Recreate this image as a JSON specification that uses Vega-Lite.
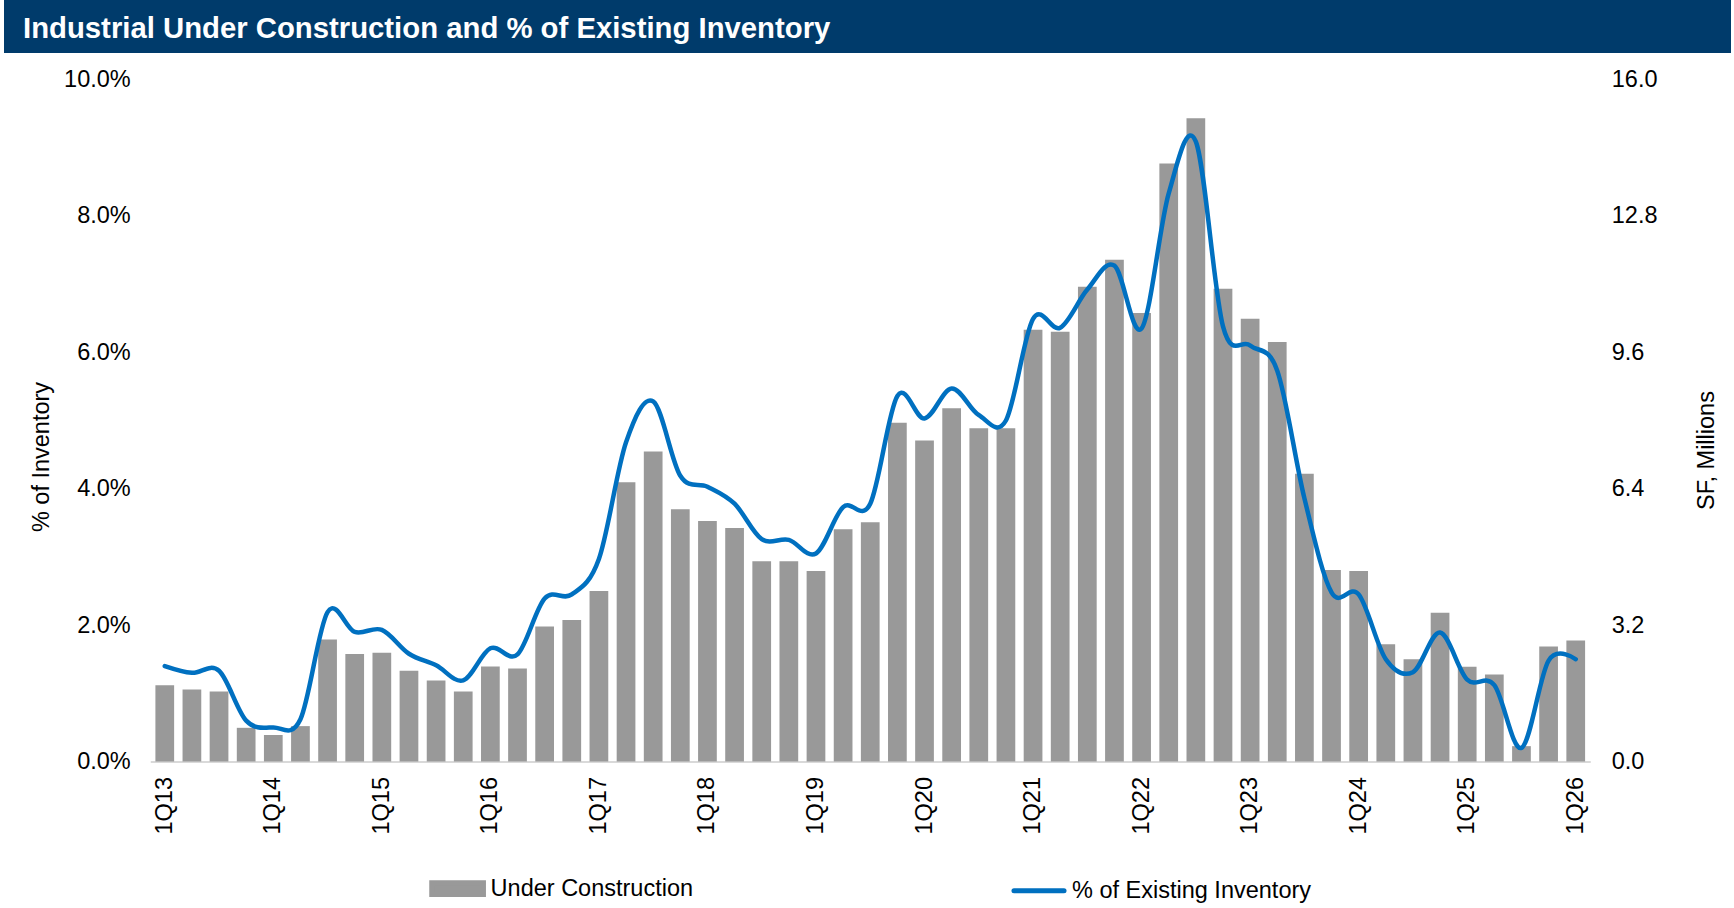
{
  "$schema": "https://vega.github.io/schema/vega-lite/v6.json",
  "background": "white",
  "padding": {"left": 4, "top": 0, "right": 0, "bottom": 0},
  "spacing": 14.5,
  "bounds": "full",
  "config": {
    "font": "Liberation Sans",
    "view": {"stroke": null},
    "axis": {
      "labelFont": "Liberation Sans",
      "titleFont": "Liberation Sans",
      "labelColor": "#000000",
      "titleColor": "#000000",
      "labelFontSize": 23.5,
      "titleFontSize": 23.5,
      "titleFontWeight": "normal",
      "grid": false,
      "ticks": false,
      "tickSize": 0
    }
  },
  "vconcat": [
    {
      "width": 1727,
      "height": 53,
      "view": {"fill": "#003B6B", "stroke": null},
      "data": {"values": [{"t": "Industrial Under Construction and % of Existing Inventory"}]},
      "mark": {"type": "text", "align": "left", "baseline": "middle", "x": 19, "y": 28.5, "color": "#ffffff", "font": "Liberation Sans", "fontSize": 29.3, "fontWeight": "bold"},
      "encoding": {"text": {"field": "t"}}
    },
    {
      "spacing": 24.25,
      "bounds": "full",
      "hconcat": [
        {
          "width": 1,
          "height": 1,
          "data": {"values": []},
          "mark": "point"
        },
        {
          "width": 1440,
          "height": 682,
          "data": {
            "values": [
              {"q": "1Q13", "sf": 1.79, "pct": 1.40},
              {"q": "2Q13", "sf": 1.69, "pct": 1.30},
              {"q": "3Q13", "sf": 1.64, "pct": 1.33},
              {"q": "4Q13", "sf": 0.79, "pct": 0.60},
              {"q": "1Q14", "sf": 0.62, "pct": 0.50},
              {"q": "2Q14", "sf": 0.83, "pct": 0.62},
              {"q": "3Q14", "sf": 2.86, "pct": 2.19},
              {"q": "4Q14", "sf": 2.52, "pct": 1.90},
              {"q": "1Q15", "sf": 2.55, "pct": 1.93},
              {"q": "2Q15", "sf": 2.13, "pct": 1.58},
              {"q": "3Q15", "sf": 1.90, "pct": 1.41},
              {"q": "4Q15", "sf": 1.64, "pct": 1.19},
              {"q": "1Q16", "sf": 2.23, "pct": 1.66},
              {"q": "2Q16", "sf": 2.18, "pct": 1.57},
              {"q": "3Q16", "sf": 3.17, "pct": 2.39},
              {"q": "4Q16", "sf": 3.32, "pct": 2.45},
              {"q": "1Q17", "sf": 4.00, "pct": 2.97},
              {"q": "2Q17", "sf": 6.55, "pct": 4.68},
              {"q": "3Q17", "sf": 7.27, "pct": 5.28},
              {"q": "4Q17", "sf": 5.92, "pct": 4.19},
              {"q": "1Q18", "sf": 5.64, "pct": 4.03},
              {"q": "2Q18", "sf": 5.48, "pct": 3.78},
              {"q": "3Q18", "sf": 4.70, "pct": 3.26},
              {"q": "4Q18", "sf": 4.70, "pct": 3.25},
              {"q": "1Q19", "sf": 4.47, "pct": 3.05},
              {"q": "2Q19", "sf": 5.45, "pct": 3.73},
              {"q": "3Q19", "sf": 5.61, "pct": 3.78},
              {"q": "4Q19", "sf": 7.95, "pct": 5.36},
              {"q": "1Q20", "sf": 7.53, "pct": 5.03},
              {"q": "2Q20", "sf": 8.29, "pct": 5.47},
              {"q": "3Q20", "sf": 7.82, "pct": 5.08},
              {"q": "4Q20", "sf": 7.82, "pct": 5.00},
              {"q": "1Q21", "sf": 10.13, "pct": 6.49},
              {"q": "2Q21", "sf": 10.08, "pct": 6.36},
              {"q": "3Q21", "sf": 11.14, "pct": 6.92},
              {"q": "4Q21", "sf": 11.77, "pct": 7.27},
              {"q": "1Q22", "sf": 10.52, "pct": 6.35},
              {"q": "2Q22", "sf": 14.03, "pct": 8.33},
              {"q": "3Q22", "sf": 15.09, "pct": 9.09},
              {"q": "4Q22", "sf": 11.09, "pct": 6.38},
              {"q": "1Q23", "sf": 10.39, "pct": 6.10},
              {"q": "2Q23", "sf": 9.84, "pct": 5.73},
              {"q": "3Q23", "sf": 6.75, "pct": 3.86},
              {"q": "4Q23", "sf": 4.49, "pct": 2.48},
              {"q": "1Q24", "sf": 4.47, "pct": 2.45},
              {"q": "2Q24", "sf": 2.75, "pct": 1.50},
              {"q": "3Q24", "sf": 2.40, "pct": 1.31},
              {"q": "4Q24", "sf": 3.49, "pct": 1.89},
              {"q": "1Q25", "sf": 2.22, "pct": 1.20},
              {"q": "2Q25", "sf": 2.04, "pct": 1.12},
              {"q": "3Q25", "sf": 0.36, "pct": 0.20},
              {"q": "4Q25", "sf": 2.70, "pct": 1.48},
              {"q": "1Q26", "sf": 2.84, "pct": 1.50}
            ]
          },
          "layer": [
            {
              "mark": {"type": "bar", "color": "#999999"},
              "encoding": {
                "x": {
                  "field": "q",
                  "type": "ordinal",
                  "sort": null,
                  "scale": {"paddingInner": 0.31, "paddingOuter": 0.19},
                  "axis": {
                    "title": null,
                    "values": ["1Q13", "1Q14", "1Q15", "1Q16", "1Q17", "1Q18", "1Q19", "1Q20", "1Q21", "1Q22", "1Q23", "1Q24", "1Q25", "1Q26"],
                    "labelAngle": 270,
                    "labelPadding": 15,
                    "domainColor": "#d9d9d9",
                    "domainWidth": 2,
                    "labelOverlap": false
                  }
                },
                "y": {
                  "field": "sf",
                  "type": "quantitative",
                  "scale": {"domain": [0, 16], "nice": false},
                  "axis": {
                    "orient": "right",
                    "title": "SF, Millions",
                    "values": [0, 3.2, 6.4, 9.6, 12.8, 16],
                    "format": ".1f",
                    "domain": false,
                    "labelPadding": 21,
                    "titleX": 116,
                    "titleY": 370.5,
                    "titleAngle": 270,
                    "titleAlign": "center",
                    "titleBaseline": "middle"
                  }
                },
                "color": {
                  "datum": "Under Construction",
                  "scale": {
                    "domain": ["Under Construction", "% of Existing Inventory"],
                    "range": ["#999999", "#0070C0"]
                  },
                  "legend": {
                    "title": null,
                    "orient": "none",
                    "legendX": 423.6,
                    "legendY": 858.5,
                    "direction": "horizontal",
                    "columnPadding": 309.4,
                    "padding": 0,
                    "symbolSize": 3025,
                    "labelOffset": 3,
                    "labelFont": "Liberation Sans",
                    "labelFontSize": 23.5,
                    "labelColor": "#000000",
                    "labelLimit": 500,
                    "encode": {
                      "symbols": {
                        "update": {
                          "shape": {"signal": "datum.value === 'Under Construction' ? 'M-0.94,-0.212H0.94V0.212H-0.94Z' : 'M-0.91,0H0.91'"},
                          "fill": {"signal": "datum.value === 'Under Construction' ? '#999999' : 'transparent'"},
                          "stroke": {"signal": "datum.value === 'Under Construction' ? 'transparent' : '#0070C0'"},
                          "strokeWidth": {"value": 5},
                          "strokeCap": {"value": "round"},
                          "opacity": {"value": 1},
                          "fillOpacity": {"value": 1},
                          "strokeOpacity": {"value": 1}
                        }
                      }
                    }
                  }
                }
              }
            },
            {
              "mark": {"type": "line", "interpolate": "cardinal", "strokeWidth": 4.5, "strokeCap": "round", "strokeJoin": "round"},
              "encoding": {
                "x": {"field": "q", "type": "ordinal", "sort": null, "scale": {"paddingInner": 0.31, "paddingOuter": 0.19}},
                "y": {
                  "field": "pct",
                  "type": "quantitative",
                  "scale": {"domain": [0, 10], "nice": false},
                  "axis": {
                    "orient": "left",
                    "title": "% of Inventory",
                    "values": [0, 2, 4, 6, 8, 10],
                    "labelExpr": "format(datum.value, '.1f') + '%'",
                    "domain": false,
                    "labelPadding": 20,
                    "titleX": -108.5,
                    "titleY": 377,
                    "titleAngle": 270,
                    "titleAlign": "center",
                    "titleBaseline": "middle"
                  }
                },
                "color": {"datum": "% of Existing Inventory"}
              }
            }
          ],
          "resolve": {"scale": {"y": "independent"}}
        }
      ]
    }
  ]
}
